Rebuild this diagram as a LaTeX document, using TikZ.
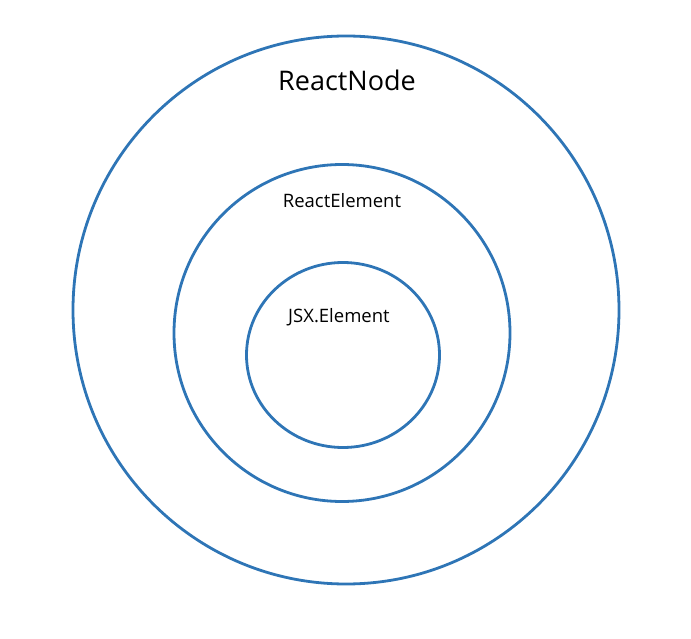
\documentclass[tikz,border=0pt]{standalone}
\usepackage{fontspec}
\setmainfont{Open Sans}
\usepackage{tikz}
\usetikzlibrary{positioning, shapes.geometric}
\definecolor{ringblue}{RGB}{46,117,182}
\tikzset{
	ring/.style n args={2}{
		draw=ringblue, % Border colour
		line width=2.8pt, % Border thickness
		ellipse, % Shape of the node
		minimum width=#1, % Width of the ring
		minimum height=#2, % Height of the ring
		inner sep=0pt
	},
	label/.style={
		text=black,
		align=center
	}
}

\begin{document}
\begin{tikzpicture}[x=1pt, y=-1pt]
	
	\useasboundingbox (0,0) rectangle (691,639);
	
	\node[ring={546pt}{548pt}] (reactnode) at (346,310) {};
	\node[ring={336pt}{337pt}] (reactelement) at (342,333) {};
	\node[ring={193pt}{185pt}] (jsxelement) at (343,355) {};
	
	\node[label, font=\fontsize{27}{32}\selectfont] (nodetext) at (347,80) {ReactNode};
	\node[label, font=\fontsize{18.5}{22}\selectfont] (elementtext) at (342,201) {ReactElement};
	\node[label, font=\fontsize{18.5}{22}\selectfont] (jsxtext) at (339,317) {JSX.Element};
	
\end{tikzpicture}
\end{document}
